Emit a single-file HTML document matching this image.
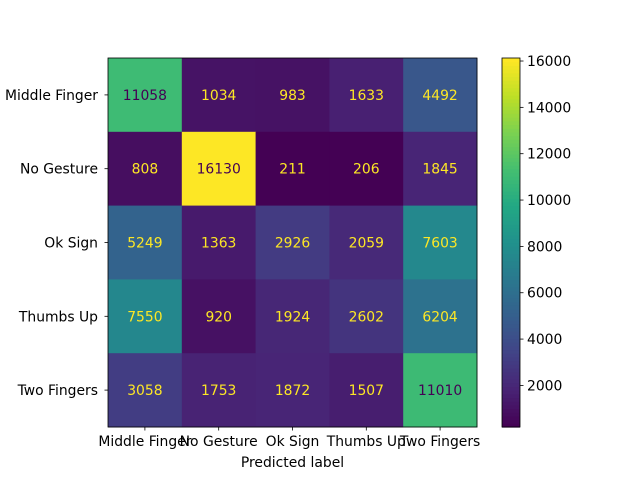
<!DOCTYPE html>
<html><head><meta charset="utf-8"><style>body{margin:0;background:#fff}svg{display:block;font-family:"DejaVu Sans","Liberation Sans",sans-serif}</style></head>
<body>
<svg id="chart" width="640" height="480" xmlns="http://www.w3.org/2000/svg"></svg>
<script>
const labels = ["Middle Finger","No Gesture","Ok Sign","Thumbs Up","Two Fingers"];
const row0 = [11058,1034,983,1633,4492];
const row1 = [808,16130,211,206,1845];
const row2 = [5249,1363,2926,2059,7603];
const row3 = [7550,920,1924,2602,6204];
const row4 = [3058,1753,1872,1507,11010];
const matrix = [row0,row1,row2,row3,row4];
const cbTicks = [2000,4000,6000,8000,10000,12000,14000,16000];

const svg = document.getElementById('chart');
const NS = 'http://www.w3.org/2000/svg';
const FS = 13.9;
const stops = ["#440154","#482475","#414487","#355f8d","#2a788e","#21918c","#22a884","#44bf70","#7ad151","#bddf26","#fde725"];
function hex(h){return [1,3,5].map(i=>parseInt(h.substr(i,2),16));}
function viridis(t){t=Math.max(0,Math.min(1,t));const f=t*10,i=Math.min(9,Math.floor(f)),r=f-i;const a=hex(stops[i]),b=hex(stops[i+1]);return 'rgb('+a.map((v,k)=>Math.round(v+(b[k]-v)*r)).join(',')+')';}
function mk(tag,attrs,parent){const e=document.createElementNS(NS,tag);for(const k in attrs)e.setAttribute(k,attrs[k]);(parent||svg).appendChild(e);return e;}
const flat=matrix.flat();const vmin=Math.min(...flat),vmax=Math.max(...flat);
const x0=108,y0=58,size=369,n=labels.length,cell=size/n;
const xs=i=>x0+cell*(i+0.5), ys=i=>y0+cell*(i+0.5);
const thresh=(vmin+vmax)/2;
matrix.forEach((row,r)=>row.forEach((v,c)=>{
  const rc=mk('rect',{x:x0+c*cell,y:y0+r*cell,width:cell+0.5,height:cell+0.5,fill:viridis((v-vmin)/(vmax-vmin))});
  
  
  const t=mk('text',{x:xs(c),y:ys(r)+5,'text-anchor':'middle','font-size':FS,fill:v>thresh?'#440154':'#fde725'});
  t.textContent=v;
  
  
}));
mk('rect',{x:x0,y:y0,width:size,height:size,fill:'none',stroke:'#000','stroke-width':0.8});
labels.forEach((l,i)=>{
  mk('line',{x1:xs(i),x2:xs(i),y1:y0+size,y2:y0+size+3.5,stroke:'#000','stroke-width':0.8});
  const tx=mk('text',{x:xs(i),y:y0+size+19,'text-anchor':'middle','font-size':FS});
  tx.textContent=l;
  
  
  mk('line',{x1:x0-3.5,x2:x0,y1:ys(i),y2:ys(i),stroke:'#000','stroke-width':0.8});
  const ty=mk('text',{x:x0-10,y:ys(i)+5,'text-anchor':'end','font-size':FS});
  ty.textContent=l;
  
  
});
const xt=mk('text',{x:x0+size/2,y:467,'text-anchor':'middle','font-size':FS});
xt.textContent='Predicted label';


const cbx=502,cbw=18;
const g=mk('g',{});


const N=100;
for(let k=0;k<N;k++){mk('rect',{x:cbx,y:y0+size-(k+1)*size/N,width:cbw,height:size/N+0.6,fill:viridis(k/(N-1))},g);}
mk('rect',{x:cbx,y:y0,width:cbw,height:size,fill:'none',stroke:'#000','stroke-width':0.8},g);
const cy=v=>y0+size-(v-vmin)/(vmax-vmin)*size;
cbTicks.forEach(v=>{
  mk('line',{x1:cbx+cbw,x2:cbx+cbw+3.5,y1:cy(v),y2:cy(v),stroke:'#000','stroke-width':0.8},g);
  const t=mk('text',{x:cbx+cbw+7,y:cy(v)+5,'font-size':FS},g);
  t.textContent=v;
  
  
});
</script>
</body></html>
